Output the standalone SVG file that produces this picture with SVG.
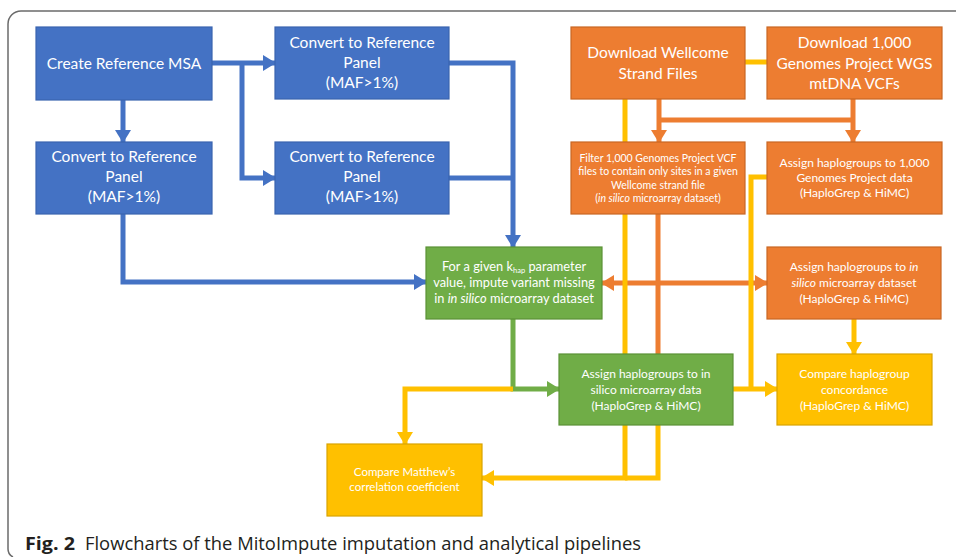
<svg xmlns="http://www.w3.org/2000/svg" width="956" height="557" viewBox="0 0 956 557">
<style>
.bg{fill:#ffffff}
.frame{fill:none;stroke:#6b6b6b;stroke-width:1.5}
.blue{fill:#4472C4;stroke:#3A64B0;stroke-width:1.2}
.orange{fill:#ED7D31;stroke:#C96724;stroke-width:1.2}
.green{fill:#70AD47;stroke:#5A9236;stroke-width:1.2}
.yellow{fill:#FFC000;stroke:#D9A300;stroke-width:1.2}
text{font-family:Lato,"Open Sans","Liberation Sans",sans-serif;fill:#ffffff;text-anchor:middle}
.t15{font-size:15.5px}
.t16{font-size:15.5px}
.t12{font-size:12px}
.t13{font-size:12.8px}
.t11{font-size:11.5px}
.t10{font-size:10.5px}
.i{font-style:italic}
.c{fill:none;stroke-width:5;stroke-linejoin:miter}
.cb{stroke:#4472C4}
.co{stroke:#ED7D31}
.cg{stroke:#70AD47}
.cy{stroke:#FFC000}
.cap{font-family:"Open Sans","Noto Sans",sans-serif;fill:#231F20;text-anchor:start;font-size:18px}
</style>
<defs>
<marker id="ab" markerUnits="userSpaceOnUse" markerWidth="14" markerHeight="16" refX="12" refY="8" orient="auto"><path d="M0,0 L13,8 L0,16 Z" fill="#4472C4"/></marker>
<marker id="ao" markerUnits="userSpaceOnUse" markerWidth="14" markerHeight="16" refX="12" refY="8" orient="auto"><path d="M0,0 L13,8 L0,16 Z" fill="#ED7D31"/></marker>
<marker id="aos" markerUnits="userSpaceOnUse" markerWidth="14" markerHeight="16" refX="1" refY="8" orient="auto"><path d="M13,0 L0,8 L13,16 Z" fill="#ED7D31"/></marker>
<marker id="ag" markerUnits="userSpaceOnUse" markerWidth="14" markerHeight="16" refX="12" refY="8" orient="auto"><path d="M0,0 L13,8 L0,16 Z" fill="#70AD47"/></marker>
<marker id="ay" markerUnits="userSpaceOnUse" markerWidth="14" markerHeight="16" refX="12" refY="8" orient="auto"><path d="M0,0 L13,8 L0,16 Z" fill="#FFC000"/></marker>
</defs>
<rect class="bg" x="0" y="0" width="956" height="557"/>
<path class="frame" d="M956,11 H21 A13,13 0 0 0 8,24 V549 A9,9 0 0 0 13,557"/>

<g id="connectors">
  <!-- blue -->
  <path class="c cb" d="M212,63 H275" marker-end="url(#ab)"/>
  <path class="c cb" d="M242,63 V178 H275" marker-end="url(#ab)"/>
  <path class="c cb" d="M123,100 V142" marker-end="url(#ab)"/>
  <path class="c cb" d="M449,63 H513 V247" marker-end="url(#ab)"/>
  <path class="c cb" d="M449,178 H513"/>
  <path class="c cb" d="M123,214 V282 H426" marker-end="url(#ab)"/>
  <!-- green -->
  <path class="c cg" d="M513,319 V389 H559" marker-end="url(#ag)"/>
  <!-- orange -->
  <path class="c co" d="M659,99 V142" marker-end="url(#ao)"/>
  <path class="c co" d="M853,99 V142" marker-end="url(#ao)"/>
  <path class="c co" d="M659,120 H853"/>
  <path class="c co" d="M658,214 V354"/>
  <path class="c co" d="M602,283 H767" marker-start="url(#aos)" marker-end="url(#ao)"/>
  <!-- yellow -->
  <path class="c cy" d="M513,389 H405 V444" marker-end="url(#ay)"/>
  <path class="c cy" d="M745,62 H767"/>
  <path class="c cy" d="M625,99 V478 H482" marker-end="url(#ay)"/>
  <path class="c cy" d="M658,425 V478 H625"/>
  <path class="c cy" d="M767,177 H751 V389"/>
  <path class="c cy" d="M733,389 H777" marker-end="url(#ay)"/>
  <path class="c cy" d="M854,319 V354" marker-end="url(#ay)"/>
</g>

<g id="create-msa">
  <rect class="blue" x="36" y="27" width="176" height="73"/>
  <text class="t15" x="124" y="68.5">Create Reference MSA</text>
</g>
<g id="convert-top">
  <rect class="blue" x="275" y="27" width="174" height="72"/>
  <text class="t15" x="362" y="48">Convert to Reference</text>
  <text class="t15" x="362" y="68">Panel</text>
  <text class="t15" x="362" y="88">(MAF&gt;1%)</text>
</g>
<g id="convert-left">
  <rect class="blue" x="36" y="142" width="176" height="72"/>
  <text class="t15" x="124" y="162">Convert to Reference</text>
  <text class="t15" x="124" y="182">Panel</text>
  <text class="t15" x="124" y="202">(MAF&gt;1%)</text>
</g>
<g id="convert-mid">
  <rect class="blue" x="275" y="142" width="174" height="72"/>
  <text class="t15" x="362" y="162">Convert to Reference</text>
  <text class="t15" x="362" y="182">Panel</text>
  <text class="t15" x="362" y="202">(MAF&gt;1%)</text>
</g>

<g id="download-wellcome">
  <rect class="orange" x="571" y="27" width="174" height="72"/>
  <text class="t16" x="658" y="57.5">Download Wellcome</text>
  <text class="t16" x="658" y="79">Strand Files</text>
</g>
<g id="download-1000g">
  <rect class="orange" x="767" y="27" width="175" height="72"/>
  <text class="t16" x="854.5" y="47.5">Download 1,000</text>
  <text class="t16" x="854.5" y="68.5">Genomes Project WGS</text>
  <text class="t16" x="854.5" y="89">mtDNA VCFs</text>
</g>
<g id="filter">
  <rect class="orange" x="571" y="142" width="174" height="72"/>
  <text class="t10" x="658" y="161.5">Filter 1,000 Genomes Project VCF</text>
  <text class="t10" x="658" y="175">files to contain only sites in a given</text>
  <text class="t10" x="658" y="188.5">Wellcome strand file</text>
  <text class="t10" x="658" y="202">(<tspan class="i">in silico</tspan> microarray dataset)</text>
</g>
<g id="assign-1000g">
  <rect class="orange" x="767" y="142" width="175" height="72"/>
  <text class="t12" x="854.5" y="167">Assign haplogroups to 1,000</text>
  <text class="t12" x="854.5" y="182">Genomes Project data</text>
  <text class="t12" x="854.5" y="197">(HaploGrep &amp; HiMC)</text>
</g>
<g id="impute">
  <rect class="green" x="426" y="247" width="176" height="72"/>
  <text class="t13" x="514" y="271">For a given k<tspan font-size="7.5" dy="2">hap</tspan><tspan dy="-2"> parameter</tspan></text>
  <text class="t13" x="514" y="287">value, impute variant missing</text>
  <text class="t13" x="514" y="303">in <tspan class="i">in silico</tspan> microarray dataset</text>
</g>
<g id="assign-insilico">
  <rect class="orange" x="767" y="247" width="174" height="72"/>
  <text class="t12" x="854" y="271">Assign haplogroups to <tspan class="i">in</tspan></text>
  <text class="t12" x="854" y="287"><tspan class="i">silico</tspan> microarray dataset</text>
  <text class="t12" x="854" y="303">(HaploGrep &amp; HiMC)</text>
</g>
<g id="assign-microarray">
  <rect class="green" x="559" y="354" width="174" height="71"/>
  <text class="t12" x="646" y="378">Assign haplogroups to in</text>
  <text class="t12" x="646" y="394">silico microarray data</text>
  <text class="t12" x="646" y="410">(HaploGrep &amp; HiMC)</text>
</g>
<g id="concordance">
  <rect class="yellow" x="777" y="354" width="155" height="71"/>
  <text class="t12" x="854.5" y="378">Compare haplogroup</text>
  <text class="t12" x="854.5" y="394">concordance</text>
  <text class="t12" x="854.5" y="410">(HaploGrep &amp; HiMC)</text>
</g>
<g id="matthews">
  <rect class="yellow" x="327" y="444" width="155" height="72"/>
  <text class="t11" x="404.5" y="476">Compare Matthew’s</text>
  <text class="t11" x="404.5" y="491">correlation coefficient</text>
</g>

<text class="cap" y="550"><tspan x="25" font-weight="bold" textLength="50" lengthAdjust="spacingAndGlyphs">Fig. 2</tspan><tspan x="85" textLength="556" lengthAdjust="spacingAndGlyphs">Flowcharts of the MitoImpute imputation and analytical pipelines</tspan></text>
</svg>
